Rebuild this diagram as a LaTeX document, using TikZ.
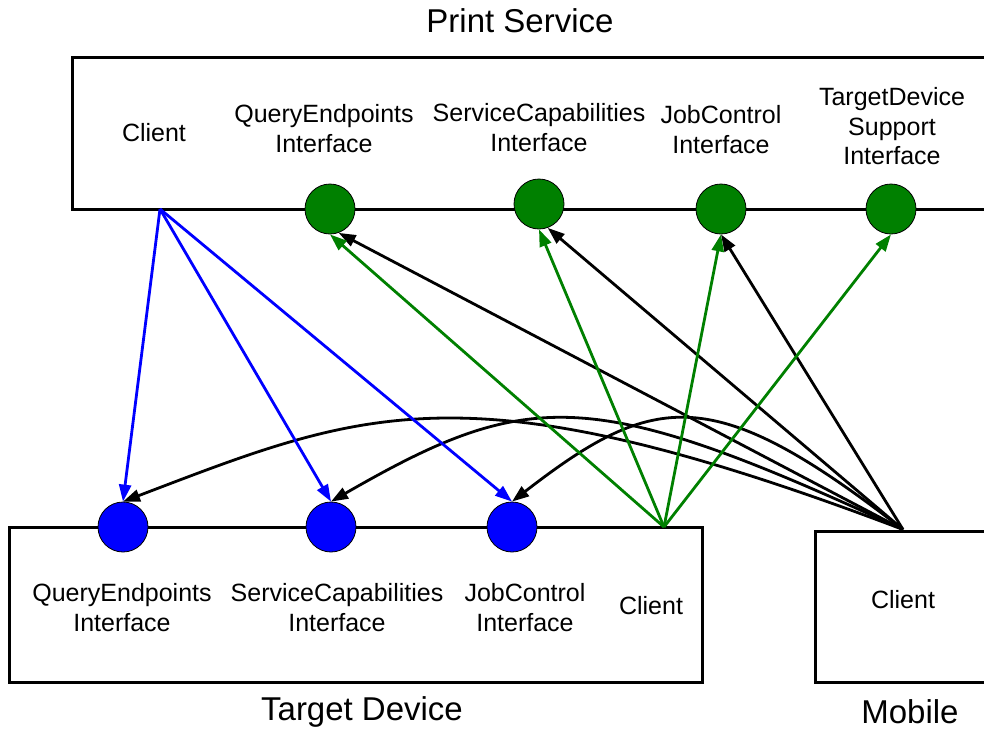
\documentclass[tikz,border=0pt]{standalone}
\usepackage{fontspec}
\setmainfont{Liberation Sans}
\usetikzlibrary{arrows.meta}
\definecolor{vgreen}{RGB}{0,128,0}
\definecolor{vblue}{RGB}{0,0,255}
\begin{document}
\begin{tikzpicture}[x=1pt,y=-1pt,
  box/.style={draw, line width=3pt, inner sep=0pt},
  lbl/.style={font=\fontsize{25}{29.5}\selectfont, align=center, inner sep=0pt},
  ttl/.style={font=\fontsize{33}{39}\selectfont, inner sep=0pt, anchor=base},
  port/.style={circle, draw=black, line width=0.8pt, minimum size=50pt, inner sep=0pt},
  gport/.style={port, fill=vgreen},
  bport/.style={port, fill=vblue},
  arr/.style={line width=2.8pt, -{Triangle[length=17pt,width=12pt]}},
]
\clip (0,0) rectangle (984,731);
% boxes
\node[box, minimum width=928pt, minimum height=152pt] (ps) at (536,133) {};
\node[box, minimum width=693pt, minimum height=155pt] (td) at (355.5,604.5) {};
\node[box, minimum width=176pt, minimum height=151pt] (mob) at (903,606.5) {};
% titles
\node[ttl] (pstitle) at (520,32) {Print Service};
\node[ttl] (tdtitle) at (362,720) {Target Device};
\node[ttl] (mobtitle) at (910,723) {Mobile};
% labels in Print Service
\node[lbl] (pscl) at (154,133) {Client};
\node[lbl] (psq) at (324,128.5) {QueryEndpoints\\Interface};
\node[lbl] (pss) at (539,127.5) {ServiceCapabilities\\Interface};
\node[lbl] (psj) at (721,129.5) {JobControl\\Interface};
\node[lbl] (pstd) at (892,126.5) {TargetDevice\\Support\\Interface};
% labels in Target Device
\node[lbl] (tdq) at (122,607.5) {QueryEndpoints\\Interface};
\node[lbl] (tds) at (337,607.5) {ServiceCapabilities\\Interface};
\node[lbl] (tdj) at (525,607.5) {JobControl\\Interface};
\node[lbl] (tdcl) at (651,606) {Client};
% label in Mobile
\node[lbl] (mobcl) at (903,600) {Client};
% ports
\node[gport] (g1) at (330,209) {};
\node[gport] (g2) at (539,204) {};
\node[gport] (g3) at (721,209) {};
\node[gport] (g4) at (891,209) {};
\node[bport] (b1) at (123,527) {};
\node[bport] (b2) at (331,527) {};
\node[bport] (b3) at (512,527) {};
% client anchors
\coordinate (psc) at (160,209);
\coordinate (tdc) at (664,527);
% black connectors from Mobile
\draw[arr] (mob.north) -- (g1.-70);
\draw[arr] (mob.north) -- (g2.-70);
\draw[arr] (mob.north) -- (g3.south);
\draw[arr] (mob.north) .. controls (467,364) and (366,409) .. (b1.north);
\draw[arr] (mob.north) .. controls (592,386) and (530,387) .. (b2.north);
\draw[arr] (mob.north) .. controls (713,382) and (655,391) .. (b3.north);
% green connectors from Target Device client
\draw[arr, vgreen] (tdc) -- (g1.south);
\draw[arr, vgreen] (tdc) -- (g2.south);
\draw[arr, vgreen] (tdc) -- (g3.south);
\draw[arr, vgreen] (tdc) -- (g4.south);
% blue connectors from Print Service client
\draw[arr, vblue] (psc) -- (b1.north);
\draw[arr, vblue] (psc) -- (b2.north);
\draw[arr, vblue] (psc) -- (b3.north);
\end{tikzpicture}
\end{document}
